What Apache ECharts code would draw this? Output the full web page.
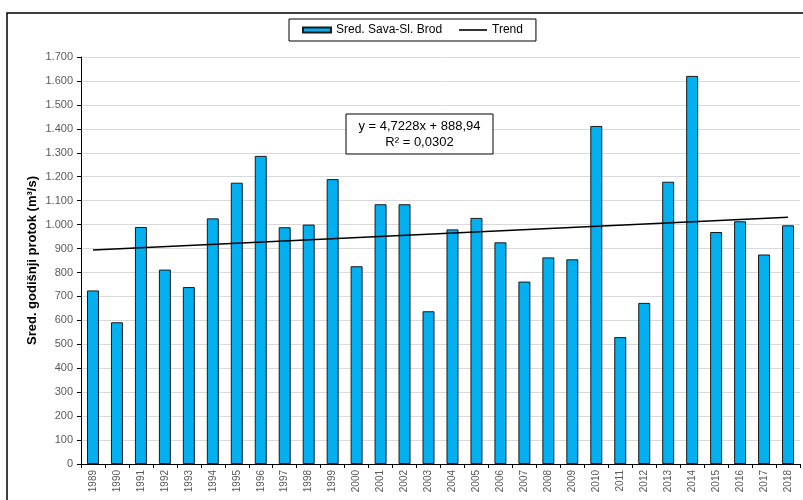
<!DOCTYPE html>
<html>
<head>
<meta charset="utf-8">
<script src="https://cdn.jsdelivr.net/npm/echarts@6/dist/echarts.min.js"></script>
<style>
html,body{margin:0;padding:0;background:#fff;}
#chart{width:803px;height:500px;}
</style>
</head>
<body>
<div id="chart"></div>
<script>
var years = ['1989','1990','1991','1992','1993','1994','1995','1996','1997','1998','1999','2000','2001','2002','2003','2004','2005','2006','2007','2008','2009','2010','2011','2012','2013','2014','2015','2016','2017','2018'];
var flow = [725, 592, 990, 812, 739, 1026, 1175, 1287, 989, 1000, 1190, 826, 1085, 1085, 638, 980, 1028, 926, 762, 863, 855, 1412, 530, 673, 1179, 1621, 969, 1014, 875, 997];
var trendPoints = [['1989', 894], ['2018', 1031]];
var yTicks = {min: 0, max: 1700, interval: 100};
var equationText = 'y = 4,7228x + 888,94\nR² = 0,0302';
var seriesNames = ['Sred. Sava-Sl. Brod', 'Trend'];
var yAxisTitle = 'Sred. godišnji protok (m³/s)';

function fmt(v){
  if (v >= 1000) { var r = String(v % 1000); while (r.length < 3) r = '0' + r; return Math.floor(v/1000) + '.' + r; }
  return String(v);
}

var chart = echarts.init(document.getElementById('chart'), null, {renderer:'canvas'});
var font = 'Liberation Sans, Arial, sans-serif';
chart.setOption({
  animation: false,
  backgroundColor: '#fff',
  textStyle: {fontFamily: font},
  grid: {left: 81, right: 3, top: 57, bottom: 36, containLabel: false},
  legend: {
    left: 289, top: 19,
    padding: [5, 13, 5, 13],
    borderColor: '#000', borderWidth: 1,
    itemGap: 17, itemWidth: 28, itemHeight: 5,
    textStyle: {fontFamily: font, fontSize: 12, color: '#000'},
    data: [
      {name: seriesNames[0], icon: 'rect'},
      {name: seriesNames[1], icon: 'path://M0,0M0,1.7L28,1.7L28,3.3L0,3.3ZM28,5', itemStyle: {color: '#000', borderWidth: 0}}
    ]
  },
  xAxis: {
    type: 'category', data: years,
    axisLine: {lineStyle: {color: '#000', width: 1}},
    axisTick: {show: true, length: 4, lineStyle: {color: '#000'}},
    axisLabel: {rotate: 90, fontSize: 10, color: '#595959', margin: 6, fontFamily: font},
    splitLine: {show: false}
  },
  yAxis: {
    type: 'value', min: yTicks.min, max: yTicks.max, interval: yTicks.interval,
    name: yAxisTitle, nameLocation: 'middle', nameGap: 42, nameMoveOverlap: false,
    nameTextStyle: {fontSize: 13, fontWeight: 'bold', color: '#000', fontFamily: font},
    axisLine: {show: true, lineStyle: {color: '#000', width: 1}},
    axisTick: {show: true, length: 4, lineStyle: {color: '#000'}},
    axisLabel: {fontSize: 11, color: '#595959', margin: 8, formatter: fmt, fontFamily: font},
    splitLine: {show: true, lineStyle: {color: '#d9d9d9', width: 1}}
  },
  series: [
    {
      name: seriesNames[0], type: 'bar', data: flow, barWidth: '50%',
      itemStyle: {color: '#00B0F0', borderColor: '#1a1a1a', borderWidth: 1}
    },
    {
      name: seriesNames[1], type: 'line', data: trendPoints,
      symbol: 'none', showSymbol: false, lineStyle: {color: '#000', width: 1.5}, z: 5
    }
  ],
  graphic: [
    {type: 'rect', shape: {x: 7, y: 13, width: 900, height: 600}, style: {fill: 'none', stroke: '#000', lineWidth: 1.5}, z: 100},
    {type: 'rect', shape: {x: 346, y: 114, width: 147, height: 40}, style: {fill: '#fff', stroke: '#000', lineWidth: 1}, z: 100},
    {type: 'text', x: 419.5, y: 118, style: {text: equationText, font: '13px ' + font, fill: '#000', align: 'center', verticalAlign: 'top', lineHeight: 16}, z: 101}
  ]
});
</script>
</body>
</html>
